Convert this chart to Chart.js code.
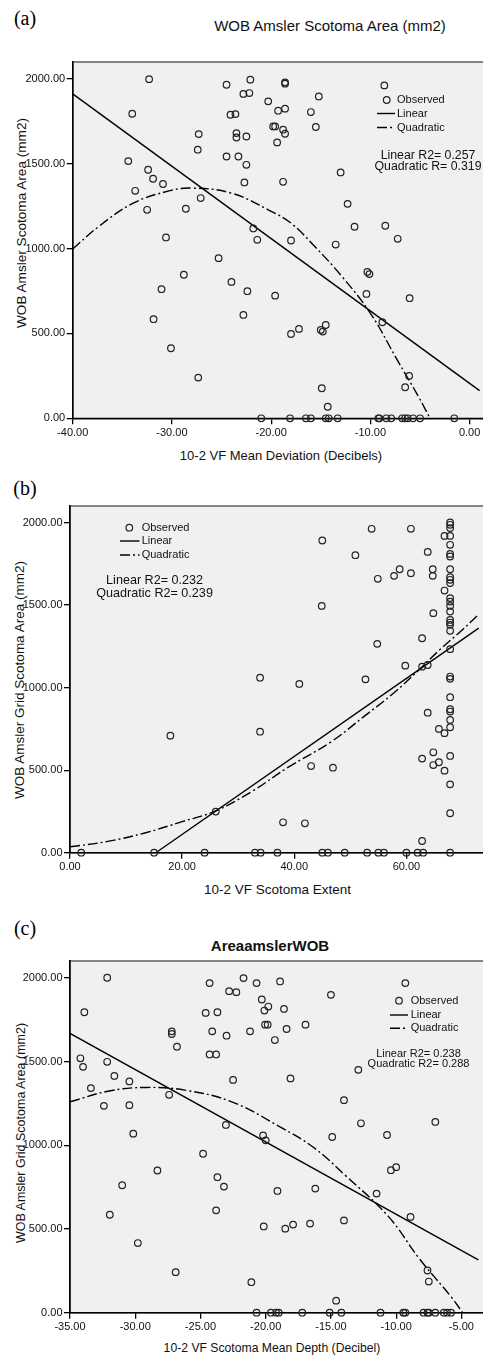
<!DOCTYPE html>
<html><head><meta charset="utf-8">
<script src="https://cdn.jsdelivr.net/npm/chart.js@4"></script>
<style>
html,body{margin:0;padding:0;background:#fff;}
#page{position:relative;width:483px;height:1356px;overflow:hidden;font-family:"Liberation Sans",Arial,sans-serif;color:#111;}
canvas{position:absolute;left:0;}
.t{position:absolute;white-space:nowrap;transform:translate(-50%,-50%);line-height:1;}
.yt{position:absolute;white-space:nowrap;transform:translate(-50%,-50%) rotate(-90deg);line-height:1;}
.lbl{font-family:"Liberation Serif","Times New Roman",serif;font-size:20px;color:#000;}
</style></head><body><div id="page">
<div class="t lbl" style="left:25px;top:18px">(a)</div>
<div class="t" style="left:330px;top:25px;font-size:15px">WOB Amsler Scotoma Area (mm2)</div>
<div class="yt" style="left:21.5px;top:223px;font-size:13.6px">WOB Amsler Scotoma Area (mm2)</div>
<div class="t" style="left:281px;top:455px;font-size:13px">10-2 VF Mean Deviation (Decibels)</div>
<canvas id="ca" width="494" height="440" style="top:0px;width:494px;height:440px"></canvas>

<div class="t lbl" style="left:25px;top:488px">(b)</div>
<div class="yt" style="left:20px;top:680px;font-size:13.5px">WOB Amsler Grid Scotoma Area (mm2)</div>
<div class="t" style="left:277.5px;top:890px;font-size:13.5px">10-2 VF Scotoma Extent</div>
<canvas id="cb" width="495" height="385" style="top:490px;width:495px;height:385px"></canvas>

<div class="t lbl" style="left:25px;top:928px">(c)</div>
<div class="t" style="left:270px;top:945px;font-size:15px;font-weight:bold">AreaamslerWOB</div>
<div class="yt" style="left:21px;top:1133px;font-size:12.5px">WOB Amsler Grid Scotoma Area (mm2)</div>
<div class="t" style="left:272px;top:1348px;font-size:12.2px">10-2 VF Scotoma Mean Depth (Decibel)</div>
<canvas id="cc" width="492" height="385" style="top:950px;width:492px;height:385px"></canvas>
</div>
<script>
// ---------- DATA ----------
const seriesNames = ['Observed','Linear','Quadratic'];
const yTicks = [0,500,1000,1500,2000];

// Panel (a): 10-2 VF Mean Deviation vs WOB Amsler Scotoma Area
const aXTicks = [-40,-30,-20,-10,0];
const aObs = [[-32.3,1999],[-24.5,1966],[-22.1,1996],[-18.6,1972],[-18.6,1980],[-15.2,1897],[-8.6,1962],
[-22.8,1912],[-22.2,1917],[-20.3,1868],[-34.0,1795],[-24.1,1789],[-23.6,1793],[-19.3,1813],[-18.6,1825],
[-16.0,1805],[-19.8,1720],[-19.6,1720],[-18.8,1701],[-18.6,1677],[-15.5,1717],[-27.3,1675],[-23.5,1681],
[-23.5,1655],[-22.5,1661],[-19.4,1626],[-27.4,1583],[-24.5,1543],[-23.3,1543],[-34.4,1516],[-22.5,1494],
[-32.4,1465],[-31.9,1412],[-30.9,1381],[-33.7,1341],[-32.5,1229],[-28.6,1235],[-27.1,1298],[-22.7,1390],
[-18.8,1394],[-13.0,1449],[-12.3,1264],[-11.6,1129],[-8.5,1135],[-7.25,1058],[-30.6,1066],[-21.8,1119],
[-21.4,1052],[-18.0,1048],[-13.5,1024],[-25.3,944],[-28.8,846],[-10.3,863],[-10.1,850],[-31.05,761],
[-24.0,804],[-22.4,749],[-19.6,723],[-10.4,733],[-6.05,708],[-31.85,584],[-22.8,609],[-8.8,566],
[-18.0,497],[-17.2,527],[-15.0,521],[-14.8,511],[-14.5,550],[-30.1,413],[-27.35,240],[-14.9,177],
[-6.1,250],[-6.5,183],[-14.3,68],
[-21.0,0],[-18.1,0],[-16.5,0],[-16.0,0],[-14.5,0],[-14.2,0],[-13.3,0],[-9.2,0],[-9.1,0],[-8.4,0],
[-7.9,0],[-6.8,0],[-6.5,0],[-6.25,0],[-5.7,0],[-5.0,0],[-1.55,0]];
const aLinear = [[-40,1912],[1.0,163]];
const aQuad = [[-40,998],[-37.3,1134],[-33.9,1268],[-30.3,1340],[-28.0,1357],[-24.0,1327],[-20.3,1229],
[-18.0,1150],[-15.6,1012],[-13.0,845],[-10.0,619],[-7.3,344],[-5.15,127],[-4.0,0]];
const aFitText = ['Linear R2= 0.257','Quadratic R= 0.319'];

// Panel (b): 10-2 VF Scotoma Extent vs WOB Amsler Grid Scotoma Area
const bXTicks = [0,20,40,60];
const bObs = [[45.0,1891],[53.8,1962],[60.8,1962],[50.9,1802],[63.8,1822],[66.8,1919],[54.9,1659],
[57.8,1677],[58.8,1717],[60.8,1693],[64.7,1717],[64.7,1677],[66.8,1588],[64.8,1451],[44.9,1495],
[54.8,1265],[62.8,1299],[59.8,1133],[62.8,1127],[63.8,1137],[52.7,1050],[33.9,1060],[40.9,1022],
[63.8,848],[65.8,750],[66.8,724],[33.9,733],[17.9,709],[43.0,525],[46.9,515],[26.0,249],[38.0,184],
[41.9,178],[62.8,570],[64.8,608],[64.8,531],[65.8,548],[66.8,497],[62.8,71],
[2,0],[15,0],[24,0],[33,0],[34,0],[37,0],[45,0],[46,0],[49,0],[53,0],[55,0],[56,0],[60,0],[62,0],[63,0]];
const bColumnX = 67.8;
const bColumnY = [2000,1986,1966,1919,1865,1810,1794,1717,1669,1653,1633,1542,1521,1495,1461,1410,1394,
1380,1344,1233,1067,1053,942,869,855,804,760,586,414,239,0];
const bLinear = [[15.3,0],[72.9,1360]];
const bQuad = [[0,36],[6.5,67],[13.5,121],[20,188],[25.9,252],[32.4,370],[38.8,515],[46.5,670],
[52.4,824],[57.7,966],[62.4,1112],[65.9,1228],[70.0,1350],[72.6,1434]];
const bFitText = ['Linear R2= 0.232','Quadratic R2= 0.239'];

// Panel (c): 10-2 VF Scotoma Mean Depth vs WOB Amsler Grid Scotoma Area
const cXTicks = [-35,-30,-25,-20,-15,-10,-5];
const cObs = [[-32.15,2000],[-33.9,1794],[-24.3,1968],[-21.7,1998],[-20.7,1968],[-18.9,1978],[-15.0,1898],
[-9.3,1968],[-22.8,1920],[-22.25,1914],[-20.3,1870],[-19.8,1828],[-20.1,1804],[-18.6,1814],[-24.6,1790],
[-23.7,1794],[-20.05,1720],[-19.85,1720],[-18.4,1694],[-16.95,1720],[-27.2,1680],[-27.2,1664],[-24.1,1680],
[-23.0,1654],[-21.2,1680],[-19.3,1628],[-26.8,1588],[-24.3,1542],[-23.8,1542],[-34.2,1519],[-34.0,1468],
[-32.15,1498],[-31.6,1414],[-30.45,1381],[-33.4,1341],[-32.4,1235],[-30.45,1239],[-27.4,1301],[-22.5,1390],
[-18.1,1399],[-12.9,1450],[-14.0,1269],[-12.7,1131],[-7.0,1139],[-10.7,1061],[-30.15,1069],[-23.05,1121],
[-20.2,1059],[-20.0,1029],[-14.9,1049],[-24.8,949],[-28.3,849],[-23.7,809],[-10.4,851],[-10.0,869],
[-31.0,761],[-23.2,753],[-19.1,727],[-16.2,741],[-11.5,711],[-31.95,585],[-23.8,611],[-8.9,572],
[-20.15,515],[-18.5,502],[-17.9,526],[-16.6,532],[-14.0,551],[-29.8,416],[-26.9,242],[-21.1,182],
[-7.6,252],[-7.5,186],[-14.6,72],
[-20.7,0],[-19.6,0],[-19.2,0],[-19.0,0],[-17.2,0],[-15.1,0],[-14.2,0],[-11.2,0],[-9.45,0],[-9.3,0],
[-7.9,0],[-7.6,0],[-7.5,0],[-7.0,0],[-6.35,0],[-6.1,0],[-5.8,0]];
const cLinear = [[-35,1668],[-3.7,316]];
const cQuad = [[-35,1259],[-32,1324],[-29.2,1345],[-26.2,1329],[-22.6,1259],[-18.8,1105],[-16.3,985],
[-13.9,820],[-10.6,575],[-8.2,320],[-5.8,96],[-4.9,0]];
const cFitText = ['Linear R2= 0.238','Quadratic R2= 0.288'];

// ---------- RENDERING ----------
const FAMILY = '"Liberation Sans", Arial, sans-serif';
Chart.defaults.font.family = FAMILY;
Chart.defaults.color = '#111';
const QDASH = [10,3,2,3];
const toPts = arr => arr.map(p => ({x:p[0], y:p[1]}));

const spssPlugin = {
  id: 'spss',
  beforeDraw(chart, args, o) {
    const {ctx, chartArea:a} = chart;
    ctx.save();
    ctx.fillStyle = '#f0f0f0';
    ctx.fillRect(a.left, a.top, a.right - a.left, a.bottom - a.top);
    ctx.strokeStyle = '#555';
    ctx.lineWidth = 1.4;
    ctx.strokeRect(a.left, a.top, a.right - a.left, a.bottom - a.top);
    ctx.restore();
  },
  afterDraw(chart, args, o) {
    const ctx = chart.ctx, L = o.legend, names = chart.data.datasets.map(d => d.label);
    ctx.save();
    ctx.fillStyle = '#111'; ctx.strokeStyle = '#222';
    ctx.textBaseline = 'middle'; ctx.textAlign = 'left';
    ctx.font = '11px ' + FAMILY;
    ctx.lineWidth = 1.2;
    ctx.beginPath(); ctx.arc(L.mx, L.y[0], 3.3, 0, Math.PI*2); ctx.stroke();
    ctx.fillText(names[0], L.tx, L.y[0]);
    ctx.lineWidth = 1.4; ctx.strokeStyle = '#000';
    ctx.beginPath(); ctx.moveTo(L.lx[0], L.y[1]); ctx.lineTo(L.lx[1], L.y[1]); ctx.stroke();
    ctx.fillText(names[1], L.tx, L.y[1]);
    ctx.setLineDash(QDASH);
    ctx.beginPath(); ctx.moveTo(L.lx[0], L.y[2]); ctx.lineTo(L.lx[1], L.y[2]); ctx.stroke();
    ctx.setLineDash([]);
    ctx.fillText(names[2], L.tx, L.y[2]);
    const R = o.fit;
    ctx.textAlign = 'center';
    ctx.font = R.size + 'px ' + FAMILY;
    R.text.forEach((t, i) => ctx.fillText(t, R.cx, R.y[i]));
    ctx.restore();
  }
};

function makePanel(id, cfg) {
  const obsStyle = {label: seriesNames[0], data: cfg.obs, showLine:false, pointRadius:3.3,
    pointHoverRadius:3.3, pointBorderWidth:1.2, pointBorderColor:'#222',
    pointBackgroundColor:'rgba(0,0,0,0)', clip:false, order:1};
  new Chart(document.getElementById(id), {
    type: 'scatter',
    data: { datasets: [
      obsStyle,
      {label: seriesNames[1], data: cfg.lin, showLine:true, pointRadius:0, borderColor:'#000',
       borderWidth:1.4, fill:false, order:2},
      {label: seriesNames[2], data: cfg.quad, showLine:true, pointRadius:0, borderColor:'#000',
       borderWidth:1.4, borderDash:QDASH, tension:0.4, fill:false, order:3}
    ]},
    options: {
      responsive:false, animation:false, devicePixelRatio:1,
      layout:{padding:{left:0, right:cfg.padRight, top:cfg.padTop, bottom:0}},
      plugins:{legend:{display:false}, tooltip:{enabled:false},
        spss:{legend:cfg.legend, fit:cfg.fit}},
      scales:{
        x:{type:'linear', min:cfg.xmin, max:cfg.xmax,
          afterBuildTicks: s => { s.ticks = cfg.xTicks.map(v => ({value:v})); },
          afterFit: s => { s.height = cfg.xh; },
          ticks:{callback: v => v.toFixed(2), font:{size:11}, color:'#111', padding:2,
            maxRotation:0, autoSkip:false},
          grid:{display:true, drawOnChartArea:false, drawTicks:true, tickLength:6, color:'#000', lineWidth:1.3},
          border:{display:true, color:'#000', width:1.6}},
        y:{type:'linear', min:0, max:2100,
          afterBuildTicks: s => { s.ticks = yTicks.map(v => ({value:v})); },
          afterFit: s => { s.width = cfg.yw; },
          ticks:{callback: v => v.toFixed(2), font:{size:11}, color:'#111', padding:1.5, autoSkip:false},
          grid:{display:true, drawOnChartArea:false, drawTicks:true, tickLength:6, color:'#000', lineWidth:1.3},
          border:{display:true, color:'#000', width:1.6}}
      }
    },
    plugins:[spssPlugin]
  });
}

makePanel('ca', {
  obs: toPts(aObs), lin: toPts(aLinear), quad: toPts(aQuad), xTicks: aXTicks,
  xmin:-40, xmax:2, yw:72.7, xh:21.7, padTop:62, padRight:0.7,
  legend:{mx:386.7, tx:397, lx:[377,395], y:[100,113.5,127.5]},
  fit:{text:aFitText, cx:428, y:[155.5,166.5], size:12.3}
});
makePanel('cb', {
  obs: toPts(bObs.concat(bColumnY.map(v => [bColumnX, v]))), lin: toPts(bLinear), quad: toPts(bQuad),
  xTicks: bXTicks, xmin:0, xmax:75, yw:70, xh:22.3, padTop:16, padRight:0.1,
  legend:{mx:129.3, tx:141.7, lx:[120,139.5], y:[37.7,51,65]},
  fit:{text:bFitText, cx:154.6, y:[90.7,103.3], size:12.6}
});
makePanel('cc', {
  obs: toPts(cObs), lin: toPts(cLinear), quad: toPts(cQuad), xTicks: cXTicks,
  xmin:-35, xmax:-3, yw:70, xh:22.3, padTop:11, padRight:0,
  legend:{mx:399, tx:410.7, lx:[390,408], y:[50.7,65,78.3]},
  fit:{text:cFitText, cx:418.5, y:[104,114.3], size:11}
});
</script>
</body></html>
